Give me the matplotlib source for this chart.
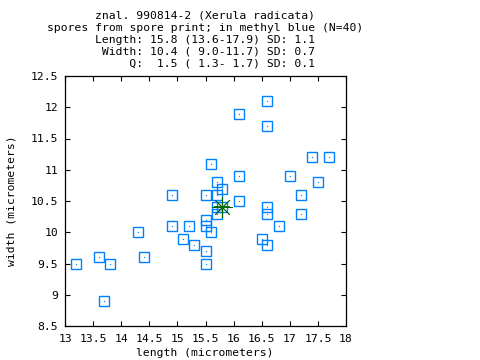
import matplotlib
matplotlib.use("Agg")
import matplotlib.pyplot as plt

# data (length, width in micrometers)
length = [13.2, 13.6, 13.8, 13.7, 14.3, 14.4, 14.9, 14.9, 15.2, 15.1,
          15.3, 15.5, 15.5, 15.5, 15.6, 15.5, 15.5, 15.6, 15.7, 15.8,
          16.1, 16.1, 16.1, 16.6, 16.6, 16.6, 16.6, 16.8, 16.5, 16.6,
          17.0, 17.2, 17.2, 17.4, 17.7, 17.5, 15.7, 15.7, 15.7, 15.8]
width = [9.5, 9.6, 9.5, 8.9, 10.0, 9.6, 10.6, 10.1, 10.1, 9.9,
         9.8, 10.6, 10.2, 10.1, 10.0, 9.7, 9.5, 11.1, 10.8, 10.7,
         11.9, 10.9, 10.5, 12.1, 11.7, 10.4, 10.3, 10.1, 9.9, 9.8,
         10.9, 10.6, 10.3, 11.2, 11.2, 10.8, 10.6, 10.4, 10.3, 10.4]
mean_length = 15.8
mean_width = 10.4

title_lines = [
    "znal. 990814-2 (Xerula radicata)",
    "spores from spore print; in methyl blue (N=40)",
    "Length: 15.8 (13.6-17.9) SD: 1.1",
    " Width: 10.4 ( 9.0-11.7) SD: 0.7",
    "     Q:  1.5 ( 1.3- 1.7) SD: 0.1",
]
xticks = [13, 13.5, 14, 14.5, 15, 15.5, 16, 16.5, 17, 17.5, 18]
xticklabels = ["13", "13.5", "14", "14.5", "15", "15.5", "16", "16.5", "17", "17.5", "18"]
yticks = [8.5, 9, 9.5, 10, 10.5, 11, 11.5, 12, 12.5]
yticklabels = ["8.5", "9", "9.5", "10", "10.5", "11", "11.5", "12", "12.5"]

W, H = 480, 360
FONT = "DejaVu Sans Mono"
FS = 8.2
plt.rcParams['font.family'] = FONT

fig = plt.figure(figsize=(W / 100, H / 100), dpi=100)
ax = fig.add_axes([65 / W, 1 - 326 / H, (346 - 65) / W, (326 - 76) / H])

blue = '#0080ff'
ax.plot(length, width, linestyle='none', marker='s', markersize=7.2,
        markerfacecolor='none', markeredgecolor=blue, markeredgewidth=1.0)
ax.plot(length, width, linestyle='none', marker='s', markersize=0.8,
        markerfacecolor=blue, markeredgecolor=blue, markeredgewidth=0)
ax.plot([mean_length], [mean_width], linestyle='none', marker=(8, 2, 0),
        markersize=15, markeredgecolor='#006400', markeredgewidth=0.6)
ax.plot([mean_length], [mean_width], linestyle='none', marker='_',
        markersize=11, markeredgecolor='#006400', markeredgewidth=1.2)

ax.set_xlim(13, 18)
ax.set_ylim(8.5, 12.5)
ax.set_xticks(xticks)
ax.set_xticklabels(xticklabels)
ax.set_yticks(yticks)
ax.set_yticklabels(yticklabels)
ax.tick_params(direction='in', length=3.6, width=0.8, top=True, right=True,
               labelsize=FS, colors='black')
ax.tick_params(axis='x', pad=5.4)
ax.tick_params(axis='y', pad=5.0)
for sp in ax.spines.values():
    sp.set_linewidth(0.9)
    sp.set_color('black')

for i, line in enumerate(title_lines):
    fig.text(205 / W, 1 - (16 + 12 * i) / H, line, ha='center', va='center',
             fontsize=FS, family=FONT)

fig.text(205 / W, 1 - 353 / H, "length (micrometers)", ha='center', va='center',
         fontsize=FS, family=FONT)
fig.text(12 / W, 1 - 201 / H, "width (micrometers)", ha='center', va='center',
         rotation=90, fontsize=FS, family=FONT)

fig.savefig("out.png", dpi=100)
